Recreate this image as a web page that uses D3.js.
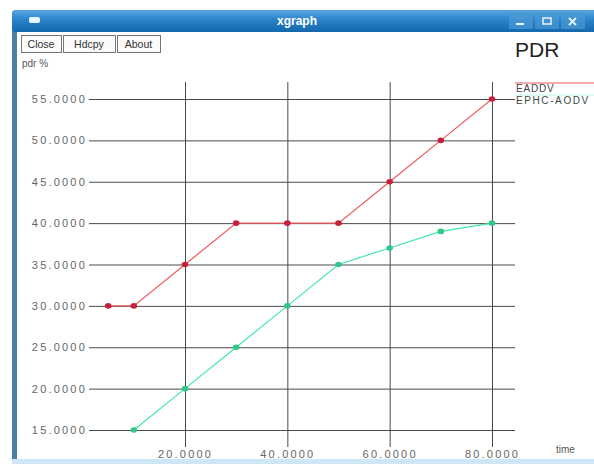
<!DOCTYPE html>
<html>
<head>
<meta charset="utf-8">
<script src="https://cdn.jsdelivr.net/npm/d3@7/dist/d3.min.js"></script>
<style>
  html, body { margin: 0; padding: 0; background: #fff; }
  svg { display: block; }
  text { font-family: "Liberation Sans", "DejaVu Sans", sans-serif; }
</style>
</head>
<body>
<svg id="chart" width="594" height="464"></svg>
<script>
// PDR vs time, two routing protocols
const timeEADDV = [5, 10, 20, 30, 40, 50, 60, 70, 80];
const pdrEADDV  = [30, 30, 35, 40, 40, 40, 45, 50, 55];
const timeEPHC  = [10, 20, 30, 40, 50, 60, 70, 80];
const pdrEPHC   = [15, 20, 25, 30, 35, 37, 39, 40];
const seriesNames = ["EADDV", "EPHC-AODV"];
const xTicks = [20, 40, 60, 80];
const yTicks = [15, 20, 25, 30, 35, 40, 45, 50, 55];
const buttons = ["Close", "Hdcpy", "About"];

const svg = d3.select("#chart");

// ---- window frame ----
const defs = svg.append("defs");
const grad = defs.append("linearGradient").attr("id", "tbar").attr("x1", 0).attr("y1", 0).attr("x2", 0).attr("y2", 1);
grad.append("stop").attr("offset", "0%").attr("stop-color", "#5aa6e0");
grad.append("stop").attr("offset", "45%").attr("stop-color", "#2a82c8");
grad.append("stop").attr("offset", "100%").attr("stop-color", "#1468ad");

svg.append("rect").attr("x", 12).attr("y", 10).attr("width", 590).attr("height", 460)
  .attr("rx", 4).attr("fill", "#3c86c0");
svg.append("rect").attr("x", 12).attr("y", 10).attr("width", 590).attr("height", 22)
  .attr("rx", 4).attr("fill", "url(#tbar)");
svg.append("rect").attr("x", 16).attr("y", 32).attr("width", 580).attr("height", 428)
  .attr("fill", "#ffffff");
// left border strip
svg.append("rect").attr("x", 13).attr("y", 32).attr("width", 4).attr("height", 430)
  .attr("fill", "#4d7f9e");
svg.append("rect").attr("x", 12).attr("y", 459).attr("width", 590).attr("height", 5)
  .attr("fill", "#cfe6f6");

// title bar icon, title and controls
svg.append("rect").attr("x", 29).attr("y", 17).attr("width", 11).attr("height", 6)
  .attr("rx", 2).attr("fill", "#e8f4ff");
svg.append("text").attr("x", 297).attr("y", 25).attr("text-anchor", "middle")
  .attr("fill", "#ffffff").attr("font-weight", "bold").attr("font-size", 12).text("xgraph");
[509, 535, 561].forEach(bx => {
  svg.append("rect").attr("x", bx).attr("y", 13).attr("width", 24).attr("height", 16)
    .attr("fill", "#4c9ad6").attr("opacity", 0.7);
});
svg.append("rect").attr("x", 516).attr("y", 23).attr("width", 8).attr("height", 2).attr("fill", "#e8f4ff");
svg.append("rect").attr("x", 543).attr("y", 18).attr("width", 8).attr("height", 6)
  .attr("fill", "none").attr("stroke", "#e8f4ff").attr("stroke-width", 1.5);
svg.append("path").attr("d", "M569,18 L576,25 M576,18 L569,25")
  .attr("stroke", "#e8f4ff").attr("stroke-width", 1.8);

// toolbar buttons
const btnX = [21, 63, 117], btnW = [40, 52, 43];
buttons.forEach((b, i) => {
  svg.append("rect").attr("x", btnX[i] + 0.5).attr("y", 35.5).attr("width", btnW[i]).attr("height", 17)
    .attr("fill", "#fafafa").attr("stroke", "#777");
  svg.append("text").attr("x", btnX[i] + btnW[i] / 2).attr("y", 48).attr("text-anchor", "middle")
    .attr("font-size", 10.5).attr("fill", "#333").text(b);
});

// ---- plot ----
const x = d3.scaleLinear().domain([20, 80]).range([185, 492]);
const y = d3.scaleLinear().domain([15, 55]).range([430, 99]);
const gridLeft = 89, gridRight = 515, gridTop = 82, gridBottom = 447;

const yAxis = svg.append("g").attr("transform", `translate(${gridLeft},0)`)
  .call(d3.axisLeft(y).tickValues(yTicks).tickSize(-(gridRight - gridLeft)).tickPadding(2)
    .tickFormat(d => d.toFixed(4)));
const xAxis = svg.append("g").attr("transform", `translate(0,${gridBottom})`)
  .call(d3.axisBottom(x).tickValues(xTicks).tickSize(-(gridBottom - gridTop)).tickPadding(3)
    .tickFormat(d => d.toFixed(4)));
[yAxis, xAxis].forEach(g => {
  g.select(".domain").remove();
  g.selectAll(".tick line").attr("stroke", "#4a4a4a").attr("stroke-width", 1);
  g.selectAll(".tick text").attr("fill", "#666").attr("font-size", 11)
    .attr("font-family", "Liberation Sans, DejaVu Sans, sans-serif")
    .attr("letter-spacing", 2.2);
});

// axis titles and chart title
svg.append("text").attr("x", 22).attr("y", 67).attr("font-size", 10).attr("fill", "#555").text("pdr %");
svg.append("text").attr("x", 556).attr("y", 453).attr("font-size", 10).attr("fill", "#555").text("time");
svg.append("text").attr("x", 515).attr("y", 57).attr("font-size", 21).attr("fill", "#222").text("PDR");

// series
const series = [
  { xs: timeEADDV, ys: pdrEADDV, line: "#ee5a5a", dot: "#c8203a" },
  { xs: timeEPHC,  ys: pdrEPHC,  line: "#40e8a8", dot: "#30c888" }
];
const line = d3.line().x(d => x(d[0])).y(d => y(d[1]));
series.forEach(s => {
  const pts = s.xs.map((t, i) => [t, s.ys[i]]);
  svg.append("path").datum(pts).attr("d", line).attr("fill", "none")
    .attr("stroke", s.line).attr("stroke-width", 1.2);
  svg.selectAll(null).data(pts).enter().append("ellipse")
    .attr("cx", d => x(d[0])).attr("cy", d => y(d[1])).attr("rx", 3.3).attr("ry", 2.8)
    .attr("fill", s.dot);
});

// legend
svg.append("line").attr("x1", 515).attr("x2", 594).attr("y1", 83).attr("y2", 83)
  .attr("stroke", series[0].line).attr("stroke-width", 1.2);
svg.append("line").attr("x1", 515).attr("x2", 594).attr("y1", 95).attr("y2", 95)
  .attr("stroke", series[1].line).attr("stroke-width", 1).attr("opacity", 0.35);
svg.append("text").attr("x", 516).attr("y", 92).attr("font-size", 10).attr("fill", "#444")
  .attr("letter-spacing", 0.8).text(seriesNames[0]);
svg.append("text").attr("x", 516).attr("y", 104).attr("font-size", 10).attr("fill", "#3a4a40")
  .attr("letter-spacing", 1.6).text(seriesNames[1]);
</script>
</body>
</html>
